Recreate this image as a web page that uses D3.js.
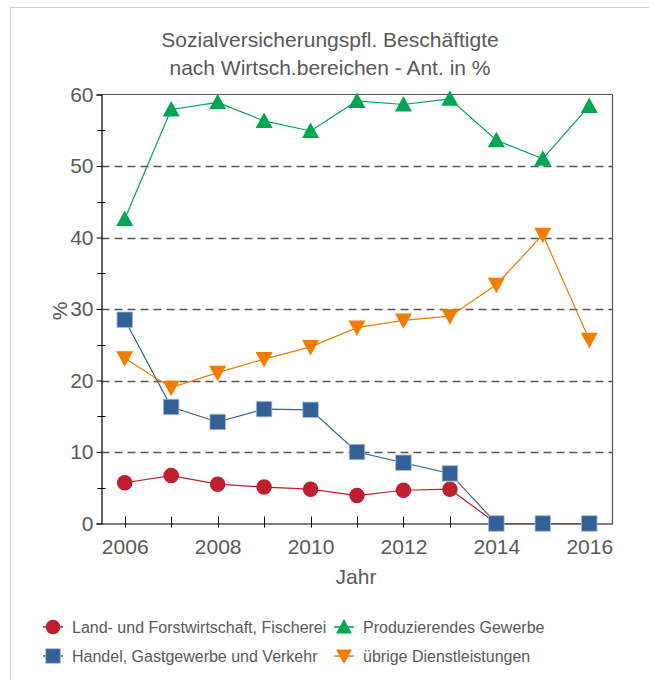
<!DOCTYPE html>
<html>
<head>
<meta charset="utf-8">
<script src="https://cdnjs.cloudflare.com/ajax/libs/d3/7.8.5/d3.min.js"></script>
<style>
body { margin: 0; background: #fff; }
svg { font-family: "Liberation Sans", Arial, sans-serif; }
</style>
</head>
<body>
<div id="chart"></div>
<script>
// data
var years = [2006, 2007, 2008, 2009, 2010, 2011, 2012, 2013, 2014, 2015, 2016];
var landwirtschaft = [5.7, 6.7, 5.5, 5.1, 4.8, 3.9, 4.65, 4.8, 0, 0, 0];
var produzierendes = [42.6, 57.9, 58.9, 56.3, 54.9, 59.1, 58.6, 59.4, 53.6, 51.0, 58.4];
var handel = [28.5, 16.3, 14.2, 16.0, 15.9, 10.0, 8.5, 7.0, 0, 0, 0];
var dienstleistungen = [23.1, 19.0, 21.1, 23.0, 24.7, 27.4, 28.4, 29.0, 33.4, 40.4, 25.7];
var yTicks = [0, 10, 20, 30, 40, 50, 60];
var xLabels = [2006, 2008, 2010, 2012, 2014, 2016];

var series = [
  {name: "Land- und Forstwirtschaft, Fischerei", values: landwirtschaft, color: "#be1e2d", shape: "circle"},
  {name: "Produzierendes Gewerbe", values: produzierendes, color: "#00a651", shape: "up"},
  {name: "Handel, Gastgewerbe und Verkehr", values: handel, color: "#336095", shape: "square"},
  {name: "übrige Dienstleistungen", values: dienstleistungen, color: "#f07c00", shape: "down"}
];

var W = 649, H = 680;
var plot = {left: 101.5, top: 94.5, right: 612.5, bottom: 523.5};
var textColor = "#595959";

var svg = d3.select("#chart").append("svg")
    .attr("width", W)
    .attr("height", H);

// outer panel
svg.append("rect")
    .attr("x", 10.5).attr("y", 7.5)
    .attr("width", 800).attr("height", 800)
    .attr("fill", "none")
    .attr("stroke", "#d0d0d0");

var x = d3.scaleLinear().domain([2005.5, 2016.5]).range([plot.left, plot.right]);
var y = d3.scaleLinear().domain([0, 60]).range([plot.bottom, plot.top]);

// title
svg.append("text")
    .attr("x", 330).attr("y", 47)
    .attr("text-anchor", "middle")
    .attr("font-size", 21)
    .attr("fill", textColor)
    .text("Sozialversicherungspfl. Beschäftigte");
svg.append("text")
    .attr("x", 330).attr("y", 75)
    .attr("text-anchor", "middle")
    .attr("font-size", 21)
    .attr("fill", textColor)
    .text("nach Wirtsch.bereichen - Ant. in %");

// dashed grid
svg.append("g").selectAll("line")
    .data(yTicks.filter(function(d) { return d > 0 && d < 60; }))
    .enter().append("line")
    .attr("x1", plot.left).attr("x2", plot.right)
    .attr("y1", function(d) { return Math.round(y(d)) + 0.5; })
    .attr("y2", function(d) { return Math.round(y(d)) + 0.5; })
    .attr("stroke", "#555")
    .attr("stroke-width", 1.3)
    .attr("stroke-dasharray", "8,5");

// frame top and right
svg.append("path")
    .attr("d", "M" + plot.left + "," + plot.top + "H" + plot.right + "V" + plot.bottom)
    .attr("fill", "none")
    .attr("stroke", "#555")
    .attr("stroke-width", 1.2);

// y axis
var yAxis = d3.axisLeft(y).tickValues(yTicks).tickSize(5).tickPadding(3);
var gy = svg.append("g")
    .attr("transform", "translate(" + plot.left + ",0)")
    .call(yAxis);
gy.attr("font-family", null).attr("font-size", null);
gy.select(".domain").attr("stroke", "#000").attr("stroke-width", 1.2);
gy.selectAll(".tick line").attr("stroke", "#000");
gy.selectAll(".tick text")
    .attr("font-size", 21)
    .attr("fill", textColor);
// minor ticks crossing the axis
svg.append("g").selectAll("line")
    .data([5, 15, 25, 35, 45, 55])
    .enter().append("line")
    .attr("x1", plot.left - 4).attr("x2", plot.left + 4)
    .attr("y1", function(d) { return Math.round(y(d)) + 0.5; })
    .attr("y2", function(d) { return Math.round(y(d)) + 0.5; })
    .attr("stroke", "#000");

// x axis
var xAxis = d3.axisBottom(x).tickValues(xLabels).tickFormat(d3.format("d")).tickSize(0).tickPadding(15.5);
var gx = svg.append("g")
    .attr("transform", "translate(0," + plot.bottom + ")")
    .call(xAxis);
gx.attr("font-family", null).attr("font-size", null);
gx.select(".domain").attr("stroke", "#000").attr("stroke-width", 1.2);
gx.selectAll(".tick text")
    .attr("font-size", 21)
    .attr("fill", textColor);
svg.append("g").selectAll("line")
    .data(years)
    .enter().append("line")
    .attr("x1", function(d) { return Math.round(x(d)) + 0.5; })
    .attr("x2", function(d) { return Math.round(x(d)) + 0.5; })
    .attr("y1", plot.bottom - 7).attr("y2", plot.bottom + 4)
    .attr("stroke", "#000");

// axis titles
svg.append("text")
    .attr("x", 356).attr("y", 584)
    .attr("text-anchor", "middle")
    .attr("font-size", 21)
    .attr("fill", textColor)
    .text("Jahr");
svg.append("text")
    .attr("transform", "translate(67,311) rotate(-90)")
    .attr("text-anchor", "middle")
    .attr("font-size", 21)
    .attr("fill", textColor)
    .text("%");

function drawMarker(g, shape, color, cx, cy, s) {
  if (shape === "circle") {
    g.append("circle").attr("cx", cx).attr("cy", cy).attr("r", s / 2)
      .attr("fill", color);
  } else if (shape === "square") {
    g.append("rect").attr("x", cx - s / 2).attr("y", cy - s / 2)
      .attr("width", s).attr("height", s)
      .attr("fill", color).attr("stroke", "#a9bcd6").attr("stroke-width", 0.8);
  } else if (shape === "up") {
    g.append("path")
      .attr("d", "M" + cx + "," + (cy - s * 0.55) + "L" + (cx + s * 0.55) + "," + (cy + s * 0.45) + "L" + (cx - s * 0.55) + "," + (cy + s * 0.45) + "Z")
      .attr("fill", color);
  } else {
    g.append("path")
      .attr("d", "M" + cx + "," + (cy + s * 0.55) + "L" + (cx + s * 0.55) + "," + (cy - s * 0.45) + "L" + (cx - s * 0.55) + "," + (cy - s * 0.45) + "Z")
      .attr("fill", color);
  }
}

var line = d3.line()
    .x(function(d) { return x(d[0]); })
    .y(function(d) { return y(d[1]); });

series.forEach(function(s) {
  var pts = years.map(function(yr, i) { return [yr, s.values[i]]; });
  var g = svg.append("g");
  g.append("path")
    .datum(pts)
    .attr("d", line)
    .attr("fill", "none")
    .attr("stroke", s.color)
    .attr("stroke-width", 1.2);
  pts.forEach(function(p) {
    drawMarker(g, s.shape, s.color, x(p[0]), y(p[1]), 15.5);
  });
});

// legend
var legendPos = [[53, 627], [344, 627], [53, 656], [344, 656]];
series.forEach(function(s, i) {
  var lx = legendPos[i][0], ly = legendPos[i][1];
  var g = svg.append("g");
  g.append("line")
    .attr("x1", lx - 10).attr("x2", lx + 10)
    .attr("y1", ly).attr("y2", ly)
    .attr("stroke", s.color).attr("stroke-width", 1.5);
  drawMarker(g, s.shape, s.color, lx, ly, 14.5);
  g.append("text")
    .attr("x", lx + 19).attr("y", ly + 5.7)
    .attr("font-size", 16)
    .attr("fill", textColor)
    .text(s.name);
});
</script>
</body>
</html>
